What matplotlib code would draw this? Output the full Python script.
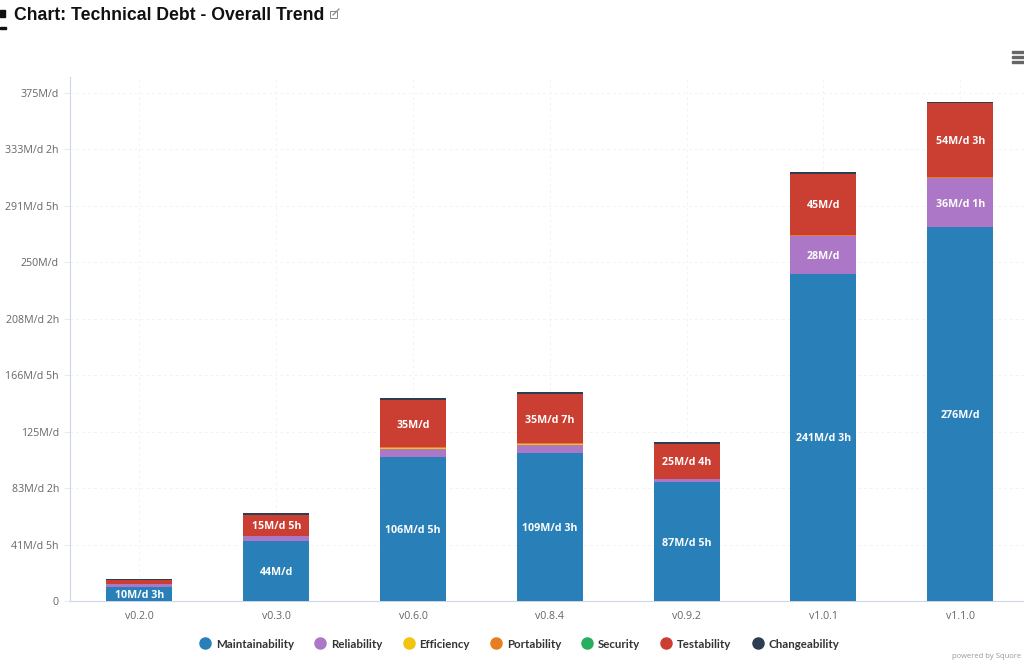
import matplotlib
matplotlib.use("Agg")
from matplotlib import pyplot as plt
from matplotlib.lines import Line2D
from matplotlib.patches import Rectangle

W, H = 1024, 660

versions = ["v0.2.0", "v0.3.0", "v0.6.0", "v0.8.4", "v0.9.2", "v1.0.1", "v1.1.0"]

maintainability = [10.4, 44, 106.6, 109.4, 87.6, 241.4, 276]
reliability = [1.9, 4, 5.5, 5.9, 2.5, 28, 36.1]
efficiency = [0.1, 0.1, 0.8, 0.8, 0.1, 0.2, 0.2]
portability = [0.1, 0.1, 0.5, 0.5, 0.1, 0.7, 0.7]
security = [0.0, 0.0, 0.0, 0.0, 0.0, 0.0, 0.0]
testability = [2.8, 15.6, 35, 35.9, 25.5, 45, 54.4]
changeability = [1, 1.3, 1.5, 2, 1.6, 1.5, 1.2]

maint_labels = ["10M/d 3h", "44M/d", "106M/d 5h", "109M/d 3h", "87M/d 5h", "241M/d 3h", "276M/d"]
rel_labels = ["", "", "", "", "", "28M/d", "36M/d 1h"]
test_labels = ["", "15M/d 5h", "35M/d", "35M/d 7h", "25M/d 4h", "45M/d", "54M/d 3h"]

y_ticks = [0, 41.67, 83.33, 125, 166.67, 208.33, 250, 291.67, 333.33, 375]
y_labels = ["0", "41M/d 5h", "83M/d 2h", "125M/d", "166M/d 5h", "208M/d 2h", "250M/d",
            "291M/d 5h", "333M/d 2h", "375M/d"]

names = ["Maintainability", "Reliability", "Efficiency", "Portability", "Security", "Testability", "Changeability"]
colors = ["#2980b9", "#ab77c6", "#f1c40f", "#e67e22", "#27ae60", "#cb3f33", "#2c3e50"]
series = [maintainability, reliability, efficiency, portability, security, testability, changeability]
labels = [maint_labels, rel_labels, None, None, None, test_labels, None]

plt.rcParams["font.family"] = ["Open Sans", "DejaVu Sans"]

fig = plt.figure(figsize=(W / 100, H / 100), dpi=100)
ax = fig.add_axes([70 / W, 1 - 601 / H, 958 / W, 524 / H])

bottom = [0] * len(versions)
for name, color, values, texts in zip(names, colors, series, labels):
    bars = ax.bar(versions, values, width=0.4825, bottom=bottom, color=color, label=name, zorder=3)
    if texts:
        anns = ax.bar_label(bars, labels=texts, label_type="center", color="white", fontsize=7.7,
                            fontweight="bold", zorder=4)
        for ann in anns:
            ann.xyann = (0, -1)
    bottom = [b + v for b, v in zip(bottom, values)]

ax.set_xlim(-0.508, 6.495)
ax.set_ylim(0, 386.8)
ax.set_yticks(y_ticks)
ax.set_yticklabels(y_labels)
ax.tick_params(axis="y", length=4, width=0.8, color="#e6ecf5", labelsize=7.7, labelcolor="#666666", pad=4)
ax.tick_params(axis="x", length=0, labelsize=7.7, labelcolor="#666666", pad=7)
ax.grid(True, color="#f1f3f8", linewidth=0.7, linestyle=(0, (3, 3)), zorder=0)
ax.set_axisbelow(True)
for side in ["top", "right"]:
    ax.spines[side].set_visible(False)
ax.spines["left"].set_color("#ccd6eb")
ax.spines["bottom"].set_color("#ccd6eb")

handles = [Line2D([], [], linestyle="", marker="o", markersize=8, color=c) for c in colors]
fig.legend(handles, names, ncol=7, loc="center", bbox_to_anchor=(518 / W, 1 - 644 / H), frameon=False,
           prop={"family": "Lato", "weight": "bold", "size": 8.3}, labelcolor="#333333",
           handletextpad=0.2, columnspacing=1.5, handlelength=1.5)

fig.text(14 / W, 1 - 20 / H, "Chart: Technical Debt - Overall Trend", family="Liberation Sans",
         fontweight="bold", fontsize=12.7, color="#111111")
fig.text(952 / W, 1 - 658.5 / H, "powered by Squore", fontsize=5.5, color="#999999")


def px_rect(x, y, w, h, **kw):
    fig.add_artist(Rectangle((x / W, 1 - (y + h) / H), w / W, h / H, transform=fig.transFigure, **kw))


# page bits around the chart: menu button, link icon, cut-off logo
for top in [51, 56, 61]:
    px_rect(1012, top, 12, 2.4, color="#666666")
px_rect(330, 11, 7, 7, fill=False, edgecolor="#888888", linewidth=0.7)
fig.add_artist(Line2D([333 / W, 339 / W], [1 - 15 / H, 1 - 9 / H], color="#888888", linewidth=0.9))
px_rect(0, 10, 5, 7, color="#111111")
px_rect(0, 27.5, 6, 1.2, color="#111111")

fig.savefig("out.png", dpi=100)
